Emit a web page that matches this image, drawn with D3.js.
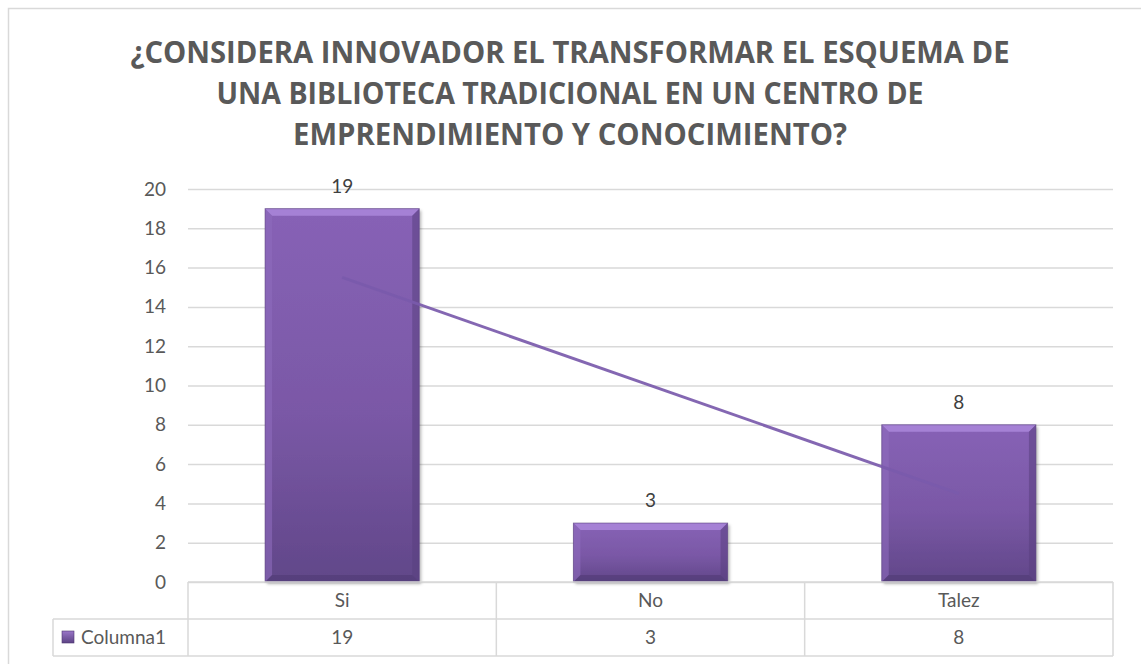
<!DOCTYPE html>
<html>
<head>
<meta charset="utf-8">
<script src="https://cdn.jsdelivr.net/npm/d3@7"></script>
<style>
  html, body { margin: 0; padding: 0; background: #fff; }
  svg { display: block; }
</style>
</head>
<body>
<svg id="chart" width="1141" height="664"></svg>
<script>
// Survey answers
const categories = ["Si", "No", "Talez"];
const values = [19, 3, 8];
const seriesName = "Columna1";
const yTicks = [0, 2, 4, 6, 8, 10, 12, 14, 16, 18, 20];
const titleLines = [
  "¿CONSIDERA INNOVADOR EL TRANSFORMAR EL ESQUEMA DE",
  "UNA BIBLIOTECA TRADICIONAL EN UN CENTRO DE",
  "EMPRENDIMIENTO Y CONOCIMIENTO?"
];

const W = 1141, H = 664;
const svg = d3.select("#chart");
const textColor = "#595959";
const gridColor = "#d9d9d9";
const bodyFont = "Lato, 'Open Sans', sans-serif";

const plot = { left: 188, right: 1113, top: 189, bottom: 582 };
const tableLeft = 53, rowH = 37;

const x = d3.scaleBand().domain(categories).range([plot.left, plot.right]).paddingInner(0.5).paddingOuter(0.25);
const xCell = d3.scaleBand().domain(categories).range([plot.left, plot.right]);
const y = d3.scaleLinear().domain([0, 20]).range([plot.bottom, plot.top]);

// Gradients and shadow
const defs = svg.append("defs");
const g1 = defs.append("linearGradient").attr("id", "barFill").attr("x1", 0).attr("y1", 0).attr("x2", 0).attr("y2", 1);
g1.append("stop").attr("offset", "0%").attr("stop-color", "#8762b6");
g1.append("stop").attr("offset", "55%").attr("stop-color", "#7a58a6");
g1.append("stop").attr("offset", "100%").attr("stop-color", "#614789");
const g2 = defs.append("linearGradient").attr("id", "keyFill").attr("x1", 0).attr("y1", 0).attr("x2", 0).attr("y2", 1);
g2.append("stop").attr("offset", "0%").attr("stop-color", "#9a76c8");
g2.append("stop").attr("offset", "100%").attr("stop-color", "#5c4384");
const shadow = defs.append("filter").attr("id", "barShadow").attr("x", "-10%").attr("y", "-10%").attr("width", "130%").attr("height", "130%");
shadow.append("feDropShadow").attr("dx", 2).attr("dy", 2).attr("stdDeviation", 1.5).attr("flood-color", "#000").attr("flood-opacity", 0.28);

// Chart frame
svg.append("rect").attr("x", 8.5).attr("y", 8.5).attr("width", W).attr("height", H)
  .attr("fill", "#fff").attr("stroke", gridColor).attr("stroke-width", 1.5);

// Title
const titleWidths = [879, 707, 554];
svg.append("g").selectAll("text").data(titleLines).join("text")
  .attr("x", 570).attr("y", (d, i) => 63 + i * 41)
  .attr("text-anchor", "middle")
  .attr("font-family", "'Open Sans', Lato, sans-serif")
  .attr("font-weight", "bold").attr("font-size", 31)
  .attr("fill", textColor)
  .attr("textLength", (d, i) => titleWidths[i])
  .attr("lengthAdjust", "spacingAndGlyphs")
  .text(d => d);

// Gridlines and y labels
const yAxis = d3.axisLeft(y).tickValues(yTicks).tickSize(-(plot.right - plot.left)).tickPadding(22);
const ya = svg.append("g").attr("transform", `translate(${plot.left},0)`).call(yAxis);
ya.select(".domain").remove();
ya.selectAll(".tick line").attr("stroke", gridColor).attr("stroke-width", 1.5);
ya.selectAll(".tick text").attr("fill", textColor)
  .attr("font-family", bodyFont).attr("font-size", 19);

// Bars with bevel
const bars = svg.append("g").selectAll("g").data(categories).join("g");
const bev = 7;
bars.each(function (c, i) {
  const g = d3.select(this);
  const x0 = x(c), x1 = x(c) + x.bandwidth(), yt = y(values[i]), yb = y(0);
  g.append("rect").attr("x", x0).attr("y", yt).attr("width", x1 - x0).attr("height", yb - yt)
    .attr("fill", "url(#barFill)").attr("filter", "url(#barShadow)");
  const poly = pts => g.append("polygon").attr("points", pts.map(p => p.join(",")).join(" "));
  poly([[x0, yt], [x1, yt], [x1 - bev, yt + bev], [x0 + bev, yt + bev]]).attr("fill", "#a985d8").attr("opacity", 0.9);
  poly([[x0, yt], [x0 + bev, yt + bev], [x0 + bev, yb - bev], [x0, yb]]).attr("fill", "#8d6bbd").attr("opacity", 0.6);
  poly([[x1, yt], [x1 - bev, yt + bev], [x1 - bev, yb - bev], [x1, yb]]).attr("fill", "#5a4080").attr("opacity", 0.55);
  poly([[x0, yb], [x0 + bev, yb - bev], [x1 - bev, yb - bev], [x1, yb]]).attr("fill", "#4f3872").attr("opacity", 0.55);
  g.append("rect").attr("x", x0).attr("y", yt).attr("width", x1 - x0).attr("height", yb - yt)
    .attr("fill", "none").attr("stroke", "#5b4380").attr("stroke-width", 1).attr("opacity", 0.6);
});

// Linear trendline
const n = values.length;
const xs = d3.range(1, n + 1);
const mx = d3.mean(xs), my = d3.mean(values);
const slope = d3.sum(xs, (v, i) => (v - mx) * (values[i] - my)) / d3.sum(xs, v => (v - mx) ** 2);
const icpt = my - slope * mx;
const trend = [
  [x(categories[0]) + x.bandwidth() / 2, y(icpt + slope * 1)],
  [x(categories[n - 1]) + x.bandwidth() / 2, y(icpt + slope * n)]
];
svg.append("path").attr("d", d3.line()(trend))
  .attr("stroke", "#7a5aab").attr("stroke-width", 3).attr("fill", "none").attr("opacity", 0.92);

// Data labels
svg.append("g").selectAll("text").data(categories).join("text")
  .attr("x", c => x(c) + x.bandwidth() / 2)
  .attr("y", (c, i) => y(values[i]) - 16)
  .attr("text-anchor", "middle")
  .attr("font-family", bodyFont).attr("font-size", 19)
  .attr("fill", "#404040")
  .text((c, i) => values[i]);

// Data table
const tbl = svg.append("g").attr("stroke", gridColor).attr("stroke-width", 1.5).attr("fill", "none");
const r0 = plot.bottom, r1 = r0 + rowH, r2 = r1 + rowH;
tbl.append("line").attr("x1", plot.left).attr("x2", plot.right).attr("y1", r0).attr("y2", r0);
tbl.append("line").attr("x1", tableLeft).attr("x2", plot.right).attr("y1", r1).attr("y2", r1);
tbl.append("line").attr("x1", tableLeft).attr("x2", plot.right).attr("y1", r2).attr("y2", r2);
tbl.append("line").attr("x1", tableLeft).attr("x2", tableLeft).attr("y1", r1).attr("y2", r2);
const edges = categories.map(c => xCell(c)).concat([plot.right]);
tbl.selectAll("line.v").data(edges).join("line").attr("class", "v")
  .attr("x1", d => d).attr("x2", d => d).attr("y1", r0).attr("y2", r2);

const cellText = (sel) => sel.attr("text-anchor", "middle")
  .attr("font-family", bodyFont).attr("font-size", 19).attr("fill", textColor);
svg.append("g").selectAll("text").data(categories).join("text")
  .attr("x", c => xCell(c) + xCell.bandwidth() / 2).attr("y", r0 + 25)
  .call(cellText).text(c => c);
svg.append("g").selectAll("text").data(categories).join("text")
  .attr("x", c => xCell(c) + xCell.bandwidth() / 2).attr("y", r1 + 25)
  .call(cellText).text((c, i) => values[i]);

// Legend key inside the table
svg.append("rect").attr("x", 62).attr("y", r1 + 12).attr("width", 12).attr("height", 12)
  .attr("fill", "url(#keyFill)").attr("stroke", "#4f3872").attr("stroke-width", 0.6);
svg.append("text").attr("x", 81).attr("y", r1 + 25)
  .attr("font-family", bodyFont).attr("font-size", 19).attr("fill", textColor)
  .text(seriesName);
</script>
</body>
</html>
